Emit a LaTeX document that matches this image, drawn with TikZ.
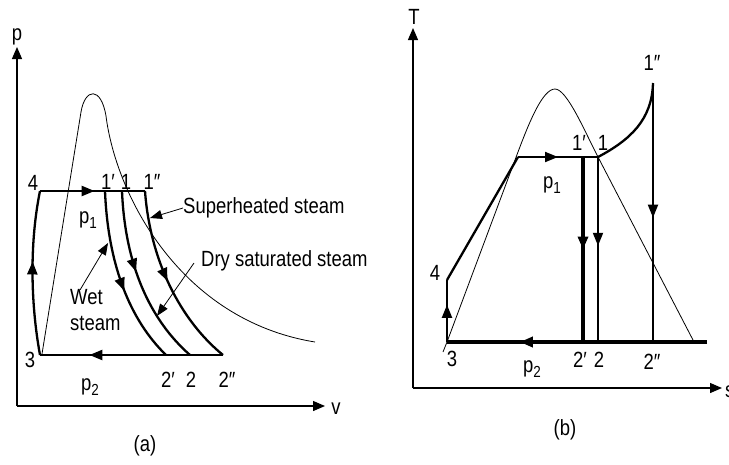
\documentclass[tikz,border=0pt]{standalone}
\usepackage{fontspec}
\setmainfont[FakeStretch=0.84]{Liberation Sans}
\usetikzlibrary{arrows.meta,decorations.markings}
\newcommand\lsub[1]{\raisebox{-0.45ex}{\fontsize{16}{16}\selectfont #1}}
\begin{document}
\begin{tikzpicture}[x=1pt,y=-1pt,
  lbl/.style={font=\fontsize{22}{26}\selectfont, inner sep=0pt},
  dome/.style={line width=0.8pt},
  cyc/.style={line width=2.3pt},
  thickcyc/.style={line width=4.2pt},
  medcyc/.style={line width=1.9pt},
  axisline/.style={line width=1.3pt, -{Triangle[length=12pt,width=10pt]}},
  ann/.style={line width=0.8pt, -{Triangle[length=12pt,width=9pt]}},
  midarrow/.style={postaction={decorate}, decoration={markings, mark=at position #1 with {\arrow{Triangle[length=13pt,width=10pt]}}}},
]
\useasboundingbox (0,0) rectangle (729,464);
\fill[white] (0,0) rectangle (729,464);

% ---------------- (a) p-v diagram ----------------
\coordinate (aO) at (17,406);
\coordinate (aY) at (17,47);
\coordinate (aX) at (325,406);
\draw[axisline] (aO) -- (aY);
\draw[axisline] (aO) -- (aX);

\coordinate (a4) at (40,191);
\coordinate (a3) at (40,355);
\coordinate (a1p) at (105,191);
\coordinate (a1) at (122,191);
\coordinate (a1pp) at (145,191);
\coordinate (a2p) at (166,355);
\coordinate (a2) at (190,355);
\coordinate (a2pp) at (223,355);

% saturation dome / curve
\draw[dome] (42,354) -- (81,112) .. controls (85,88) and (101,86) .. (106,116)
  .. controls (116,195) and (180,320) .. (315,342);

% cycle
\draw[cyc, midarrow=0.52] (a4) -- (a1pp);
\draw[cyc, midarrow=0.73] (a2pp) -- (a3);
\draw[cyc, midarrow=0.57] (a3) .. controls (30,300) and (30,240) .. (a4);
\draw[cyc, midarrow=0.57] (a1p) .. controls (108,265) and (130,320) .. (a2p);
\draw[cyc, midarrow=0.45] (a1) .. controls (125,265) and (150,320) .. (a2);
\draw[cyc, midarrow=0.5] (a1pp) .. controls (150,260) and (180,320) .. (a2pp);

% labels
\node[lbl] (lp) at (17,37) {p};
\node[lbl] (lv) at (336,409) {v};
\node[lbl] (l4a) at (33,183) {4};
\node[lbl] (l1pa) at (108,182) {1′};
\node[lbl] (l1a) at (126,182) {1};
\node[lbl] (l1ppa) at (152,182) {1″};
\node[lbl] (lp1a) at (88,220) {p\lsub{1}};
\node[lbl] (l3a) at (30,360) {3};
\node[lbl] (l2pa) at (168,380) {2′};
\node[lbl] (l2a) at (191,380) {2};
\node[lbl] (l2ppa) at (227,380) {2″};
\node[lbl] (lp2a) at (90,387) {p\lsub{2}};
\node[lbl, anchor=west] (tsup) at (183,208) {Superheated steam};
\node[lbl, anchor=west] (tdry) at (201,261) {Dry saturated steam};
\node[lbl, anchor=west, align=left] (twet) at (70,310) {Wet\\steam};
\node[lbl] (capa) at (145,446) {(a)};

\coordinate (hsup) at (150,218);
\coordinate (hdry) at (157,316);
\coordinate (hwet) at (108,243);
\draw[ann] (tsup.west) -- (hsup);
\draw[ann] (194,263) -- (hdry);
\draw[ann] (80,290) -- (hwet);

% ---------------- (b) T-s diagram ----------------
\coordinate (bO) at (413,388);
\coordinate (bY) at (413,28);
\coordinate (bX) at (722,388);
\draw[axisline] (bO) -- (bY);
\draw[axisline] (bO) -- (bX);

\coordinate (b3) at (447,342);
\coordinate (b4) at (447,280);
\coordinate (bA) at (518,157);
\coordinate (b1p) at (583,157);
\coordinate (b1) at (598,157);
\coordinate (b1pp) at (653,83);
\coordinate (b2p) at (583,342);
\coordinate (b2) at (598,342);
\coordinate (b2pp) at (653,342);
\coordinate (bE) at (707,342);

% dome
\draw[dome] (b3) -- (518,152) .. controls (530,120) and (543,89) .. (555,89)
  .. controls (567,89) and (585,132) .. (b1) -- (693,340);

% cycle
\draw[medcyc, midarrow=0.6] (b3) -- (b4);
\draw[cyc] (b4) -- (bA);
\draw[medcyc, midarrow=0.5] (bA) -- (b1);
\draw[cyc] (b1) .. controls (630,140) and (652,120) .. (b1pp);
\draw[medcyc, midarrow=0.52] (b1pp) -- (b2pp);
\draw[thickcyc, midarrow=0.5] (b1p) -- (b2p);
\draw[medcyc, midarrow=0.48] (b1) -- (b2);
\draw[line width=4pt, midarrow=0.72] (bE) -- (b3);
\draw[line width=0.8pt] (443,352) -- (b3);

% labels
\node[lbl] (lT) at (414,17) {T};
\node[lbl, anchor=west] (ls) at (725,392) {s};
\node[lbl] (l4b) at (435,273) {4};
\node[lbl] (l1pb) at (579,143) {1′};
\node[lbl] (l1b) at (603,143) {1};
\node[lbl] (l1ppb) at (652,63) {1″};
\node[lbl] (lp1b) at (552,185) {p\lsub{1}};
\node[lbl] (l3b) at (452,359) {3};
\node[lbl] (l2pb) at (580,360) {2′};
\node[lbl] (l2b) at (599,360) {2};
\node[lbl] (l2ppb) at (652,362) {2″};
\node[lbl] (lp2b) at (532,369) {p\lsub{2}};
\node[lbl] (capb) at (565,430) {(b)};
\end{tikzpicture}
\end{document}
